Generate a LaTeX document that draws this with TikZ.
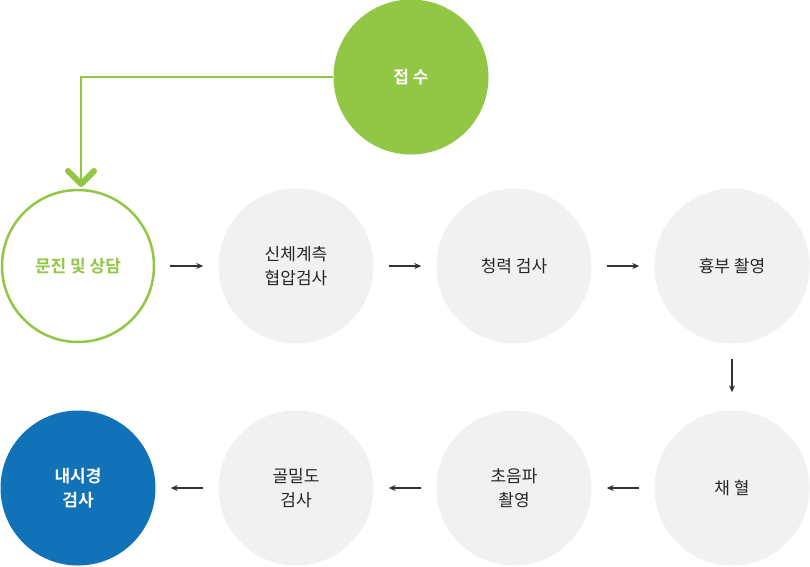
\documentclass[tikz,border=0pt]{standalone}
\usepackage{fontspec}
\newfontfamily\krfont{Noto Sans CJK KR}
\newfontfamily\krbold{Noto Sans CJK KR Bold}
\usetikzlibrary{arrows.meta}
\definecolor{stepgreen}{HTML}{92C746}
\definecolor{stepblue}{HTML}{1172B8}
\definecolor{stepgray}{HTML}{F1F1F1}
\definecolor{arrowgray}{HTML}{333333}
\tikzset{
  stepcircle/.style={circle, minimum size=155pt, inner sep=0pt, align=center,
    font=\krfont\fontsize{17}{24}\selectfont, text=black!85},
  graystep/.style={stepcircle, fill=stepgray},
  boldstep/.style={stepcircle, font=\krbold\fontsize{17}{24}\selectfont},
  flow/.style={draw=arrowgray, line width=1.3pt, -{Stealth[length=7pt,width=6pt]}},
}
\begin{document}
\begin{tikzpicture}[x=1pt, y=-1pt]
  \useasboundingbox (0,0) rectangle (810,566);
  % start
  \node[boldstep, fill=stepgreen, text=white] (jeopsu) at (411,77) {접 수};
  % first row
  \node[boldstep, minimum size=152pt, draw=stepgreen, line width=2.5pt, fill=white,
    text=stepgreen] (munjin) at (78,266) {문진 및 상담};
  \node[graystep] (sinche) at (296,266) {신체계측\\협압검사};
  \node[graystep] (cheongryeok) at (514,266) {청력 검사};
  \node[graystep] (hyungbu) at (732,266) {흉부 촬영};
  % second row
  \node[graystep] (chaehyeol) at (732,488) {채 혈};
  \node[graystep] (choeumpa) at (514,488) {초음파\\촬영};
  \node[graystep] (golmildo) at (296,488) {골밀도\\검사};
  \node[boldstep, fill=stepblue, text=white] (naesigyeong) at (78,488) {내시경\\검사};

  % green entry line with chevron
  \coordinate (entry) at ([xshift=3pt, yshift=4.75pt]munjin.north);
  \draw[stepgreen, line width=2pt] (jeopsu.west) -| (entry);
  \draw[stepgreen, line width=6pt, line cap=round, line join=round]
    ([shift={(-13,-13)}]entry) -- (entry) -- ([shift={(13,-13)}]entry);

  \foreach \a/\b in {munjin/sinche, sinche/cheongryeok, cheongryeok/hyungbu,
                     chaehyeol/choeumpa, choeumpa/golmildo, golmildo/naesigyeong}
    \draw[flow, shorten <=15pt, shorten >=15pt] (\a) -- (\b);
  \draw[flow, shorten <=15pt, shorten >=18pt] (hyungbu) -- (chaehyeol);
\end{tikzpicture}
\end{document}
